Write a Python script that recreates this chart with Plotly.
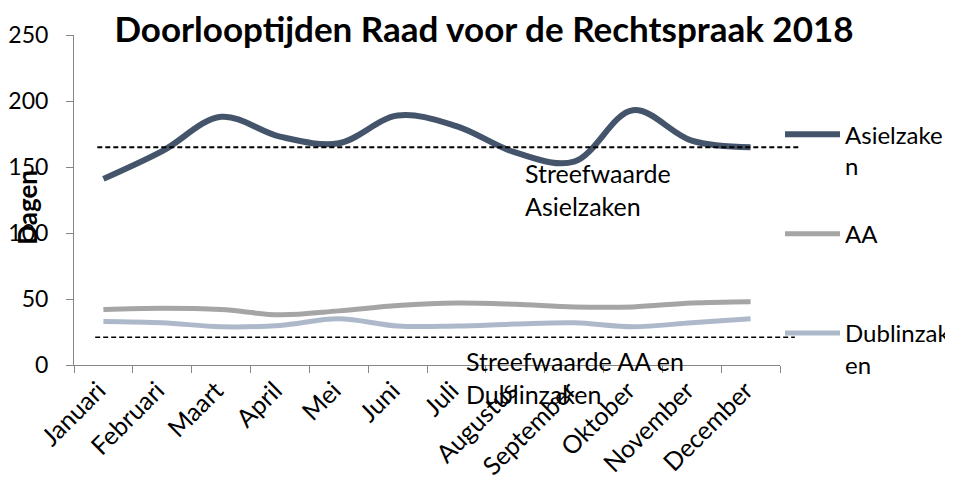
import plotly.graph_objects as go

months = ["Januari", "Februari", "Maart", "April", "Mei", "Juni", "Juli",
          "Augustus", "September", "Oktober", "November", "December"]
asielzaken = [141, 162, 188, 173, 168, 189, 181, 161, 154, 193, 170, 165]
aa = [42, 43, 42, 38, 41, 45, 47, 46, 44, 44, 47, 48]
dublinzaken = [33, 32, 29, 30, 35, 29.5, 29.5, 31, 32, 29, 32, 35]
target_asiel = 165
target_aa_dublin = 21

series_names = ["Asielzake<br>n", "AA<br>\u00a0", "Dublinzak<br>en"]
series_colors = ["#44546A", "#A5A5A5", "#ADB9CA"]
series_widths = [6, 5, 5]

FONT = "Lato, 'Open Sans', sans-serif"
W, H = 990, 479
OFF = 8  # default page body margin

fig = go.Figure()
for i, (name, vals) in enumerate(zip(series_names, [asielzaken, aa, dublinzaken])):
    fig.add_trace(go.Scatter(
        x=months, y=vals, name=name, mode="lines",
        line=dict(color=series_colors[i], width=series_widths[i], shape="spline", smoothing=1.0),
        legendgroup=f"g{i}",
    ))

fig.add_shape(type="line", xref="paper", yref="y", x0=0.033, x1=1.027,
              y0=target_asiel, y1=target_asiel,
              line=dict(color="black", width=2, dash="5px,3px"))
fig.add_shape(type="line", xref="paper", yref="y", x0=0.030, x1=1.021,
              y0=target_aa_dublin, y1=target_aa_dublin,
              line=dict(color="black", width=1.6, dash="5px,3px"))

fig.add_annotation(text="Streefwaarde<br>Asielzaken", xref="paper", yref="paper",
                   x=0.636, y=0.632, xanchor="left", yanchor="top", align="left",
                   showarrow=False, font=dict(family=FONT, size=25, color="black"))
fig.add_annotation(text="Streefwaarde AA en<br>Dublinzaken", xref="paper", yref="paper",
                   x=0.553, y=0.063, xanchor="left", yanchor="top", align="left",
                   showarrow=False, font=dict(family=FONT, size=25, color="black"))
fig.add_annotation(text="<b>Dagen</b>", xref="paper", yref="paper",
                   x=-0.066, y=0.478, xanchor="center", yanchor="middle",
                   textangle=-90, showarrow=False,
                   font=dict(family=FONT, size=26, color="black"))

fig.update_layout(
    width=W, height=H,
    margin=dict(l=74 - OFF, r=W - (780 - OFF), t=35 - OFF, b=H - (365 - OFF)),
    paper_bgcolor="white", plot_bgcolor="white",
    font=dict(family=FONT, size=24, color="black"),
    title=dict(text="<b>Doorlooptijden Raad voor de Rechtspraak 2018</b>",
               x=(484 - OFF) / W, xanchor="center", xref="container",
               y=1 - (30 - OFF) / H, yanchor="middle", yref="container",
               font=dict(family=FONT, size=35, color="black")),
    showlegend=True,
    legend=dict(x=1.0, xanchor="left", y=0.766, yanchor="top",
                font=dict(family=FONT, size=24, color="black"),
                tracegroupgap=34, valign="top", itemwidth=55,
                bgcolor="rgba(0,0,0,0)"),
    xaxis=dict(type="category", range=[-0.5, 11.5], tickson="boundaries",
               ticks="outside", ticklen=7, tickcolor="#868686",
               showline=True, linecolor="#868686", linewidth=1,
               showgrid=False, zeroline=False, tickangle=-45, automargin=False,
               ticklabelshift=-5,
               tickfont=dict(family=FONT, size=25, color="black")),
    yaxis=dict(range=[0, 250], dtick=50, ticks="outside", ticklen=7,
               tickcolor="#868686", showline=True, linecolor="#868686", linewidth=1,
               showgrid=False, zeroline=False, automargin=False,
               ticklabelstandoff=13,
               tickfont=dict(family=FONT, size=23, color="black")),
)

fig.write_html("out.html")
